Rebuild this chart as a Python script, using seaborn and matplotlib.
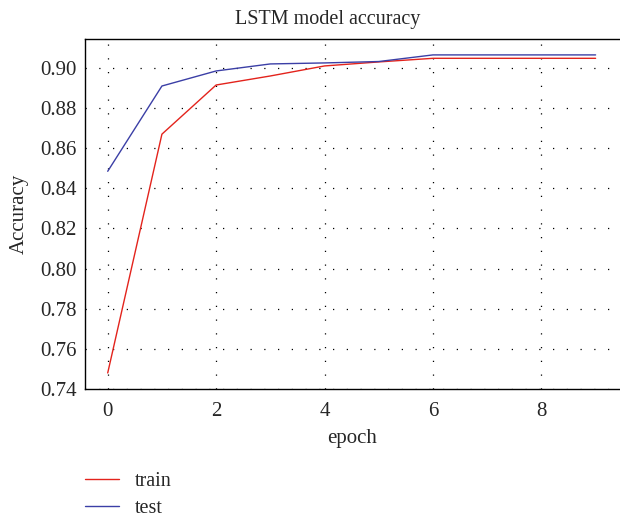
import numpy as np
import pandas as pd
import seaborn as sns
import matplotlib.pyplot as plt

epochs = [0, 1, 2, 3, 4, 5, 6, 7, 8, 9]
train_acc = [0.748, 0.867, 0.8915, 0.896, 0.901, 0.903, 0.9048, 0.9048, 0.9048, 0.9048]
test_acc = [0.8485, 0.891, 0.8985, 0.902, 0.9025, 0.9032, 0.9065, 0.9065, 0.9065, 0.9065]

df = pd.DataFrame({'epoch': epochs + epochs,
                   'acc': train_acc + test_acc,
                   'set': ['train'] * len(epochs) + ['test'] * len(epochs)})

sns.set_style('white')
plt.rcParams['font.family'] = ['Liberation Serif', 'DejaVu Serif']

fig = plt.figure(figsize=(6.2, 5.18), dpi=100)
ax = fig.add_axes([0.137, 0.249, 0.863, 0.676])
sns.lineplot(data=df, x='epoch', y='acc', hue='set', palette={'train': '#e3231c', 'test': '#3b3fa6'},
             linewidth=1.0, ax=ax)

ax.set_xlim(-0.42, 9.45)
ax.set_ylim(0.74, 0.9145)
ax.set_xticks([0, 2, 4, 6, 8])
ax.set_yticks(np.arange(0.74, 0.901, 0.02))
ax.set_yticklabels(['%.2f' % v for v in np.arange(0.74, 0.901, 0.02)])
ax.grid(True, color='black', linestyle=(0, (1, 10)), linewidth=0.9)
ax.tick_params(labelsize=15, length=0)
ax.tick_params(axis='y', pad=6)
ax.tick_params(axis='x', pad=9)
for s in ['left', 'bottom', 'top']:
    ax.spines[s].set_color('black')
    ax.spines[s].set_linewidth(1.0)
ax.spines['right'].set_visible(False)

ax.set_title('LSTM model accuracy', fontsize=14.5, pad=11, x=0.454)
ax.set_xlabel('epoch', fontsize=15, labelpad=6)
ax.set_ylabel('Accuracy', fontsize=15, labelpad=8)

ax.legend(loc='upper left', bbox_to_anchor=(-0.027, -0.196), frameon=False, fontsize=14.5,
          handlelength=1.7, handletextpad=0.8, labelspacing=0.4, borderaxespad=0.3, title=None)

fig.savefig('out.png', dpi=100)
